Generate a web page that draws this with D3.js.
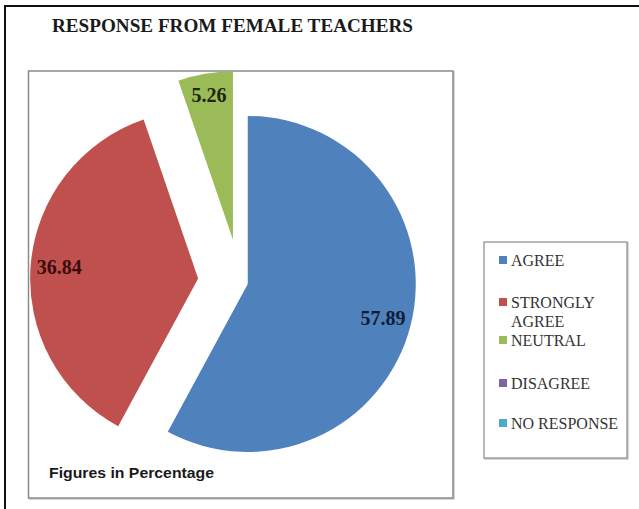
<!DOCTYPE html>
<html>
<head>
<meta charset="utf-8">
<script src="https://cdn.jsdelivr.net/npm/d3@7"></script>
<style>
  html, body { margin: 0; padding: 0; background: #fff; }
  svg { display: block; }
</style>
</head>
<body>
<svg id="chart" width="639" height="509"></svg>
<script>
// ---- data ----
const categories = ["AGREE", "STRONGLY AGREE", "NEUTRAL", "DISAGREE", "NO RESPONSE"];
const values = [57.89, 36.84, 5.26, 0, 0];
const legendLines = [["AGREE"], ["STRONGLY", "AGREE"], ["NEUTRAL"], ["DISAGREE"], ["NO RESPONSE"]];
const titleText = "RESPONSE FROM FEMALE TEACHERS";
const noteText = "Figures in Percentage";

// ---- style / layout ----
const colors = ["#4F81BD", "#C0504D", "#9BBB59", "#8064A2", "#4BACC6"];
const labelColors = ["#0f1c33", "#3a0c0c", "#1c2608", "#000", "#000"];
const explodeBy = [8, 42, 43, 0, 0];
const labelPos = [0.83, 0.83, 0.87, 0.8, 0.8];
const W = 639, H = 509;
const plot = { x: 28.5, y: 71, w: 424.5, h: 427 };
const center = { x: 240, y: 282 };
const radius = 168;

const svg = d3.select("#chart");

// outer border
svg.append("rect")
  .attr("x", 5).attr("y", 6).attr("width", 700).attr("height", 600)
  .attr("fill", "none").attr("stroke", "#111").attr("stroke-width", 2);

// title
svg.append("text")
  .attr("x", 52).attr("y", 32)
  .attr("font-family", "'Liberation Serif', serif")
  .attr("font-weight", "bold").attr("font-size", 18.5)
  .attr("fill", "#1a1a1a")
  .attr("textLength", 361).attr("lengthAdjust", "spacingAndGlyphs")
  .text(titleText);

// plot area
svg.append("defs").append("clipPath").attr("id", "plotclip")
  .append("rect").attr("x", plot.x).attr("y", plot.y).attr("width", plot.w).attr("height", plot.h);

svg.append("rect")
  .attr("x", plot.x + 1).attr("y", plot.y + 1).attr("width", plot.w).attr("height", plot.h)
  .attr("fill", "none").attr("stroke", "#c8c8c8").attr("stroke-width", 1.5);
svg.append("rect")
  .attr("x", plot.x).attr("y", plot.y).attr("width", plot.w).attr("height", plot.h)
  .attr("fill", "#fff").attr("stroke", "#8a8a8a").attr("stroke-width", 1.5);

const pie = d3.pie().sort(null).value(d => d.v).startAngle(0).endAngle(2 * Math.PI);
const data = categories.map((c, i) => ({ c, v: values[i], i }));
const arcs = pie(data);
const arcGen = d3.arc().innerRadius(0).outerRadius(radius);

const g = svg.append("g").attr("clip-path", "url(#plotclip)");

arcs.filter(a => a.data.v > 0).forEach(a => {
  const mid = (a.startAngle + a.endAngle) / 2;
  const off = explodeBy[a.data.i];
  const cx = center.x + off * Math.sin(mid);
  const cy = center.y - off * Math.cos(mid);
  const sg = g.append("g").attr("transform", `translate(${cx},${cy})`);
  sg.append("path").attr("d", arcGen(a)).attr("fill", colors[a.data.i]);
  const lr = radius * labelPos[a.data.i];
  sg.append("text")
    .attr("x", lr * Math.sin(mid)).attr("y", -lr * Math.cos(mid))
    .attr("text-anchor", "middle").attr("dominant-baseline", "central")
    .attr("font-family", "'Liberation Serif', serif")
    .attr("font-weight", "bold").attr("font-size", 20)
    .attr("fill", labelColors[a.data.i])
    .text(d3.format(".2f")(a.data.v));
});

// note
svg.append("text")
  .attr("x", 49).attr("y", 478)
  .attr("font-family", "'Liberation Sans', sans-serif")
  .attr("font-weight", "bold").attr("font-size", 15)
  .attr("fill", "#1a1a1a")
  .attr("textLength", 165).attr("lengthAdjust", "spacingAndGlyphs")
  .text(noteText);

// legend
const leg = { x: 484, y: 242, w: 143, h: 216 };
svg.append("rect")
  .attr("x", leg.x + 1).attr("y", leg.y + 1).attr("width", leg.w).attr("height", leg.h)
  .attr("fill", "none").attr("stroke", "#c8c8c8").attr("stroke-width", 1.5);
svg.append("rect")
  .attr("x", leg.x).attr("y", leg.y).attr("width", leg.w).attr("height", leg.h)
  .attr("fill", "#fff").attr("stroke", "#8a8a8a").attr("stroke-width", 1.2);

const legendY = [260, 302, 340, 383, 423];
const lineGap = 19;
categories.forEach((c, i) => {
  svg.append("rect")
    .attr("x", 499).attr("y", legendY[i] - 4).attr("width", 8).attr("height", 8)
    .attr("fill", colors[i]);
  const t = svg.append("text")
    .attr("font-family", "'Liberation Serif', 'DejaVu Serif', serif")
    .attr("font-size", 16).attr("fill", "#333");
  legendLines[i].forEach((ln, k) => {
    t.append("tspan").attr("x", 511).attr("y", legendY[i] + 5.5 + k * lineGap).text(ln);
  });
});
</script>
</body>
</html>
